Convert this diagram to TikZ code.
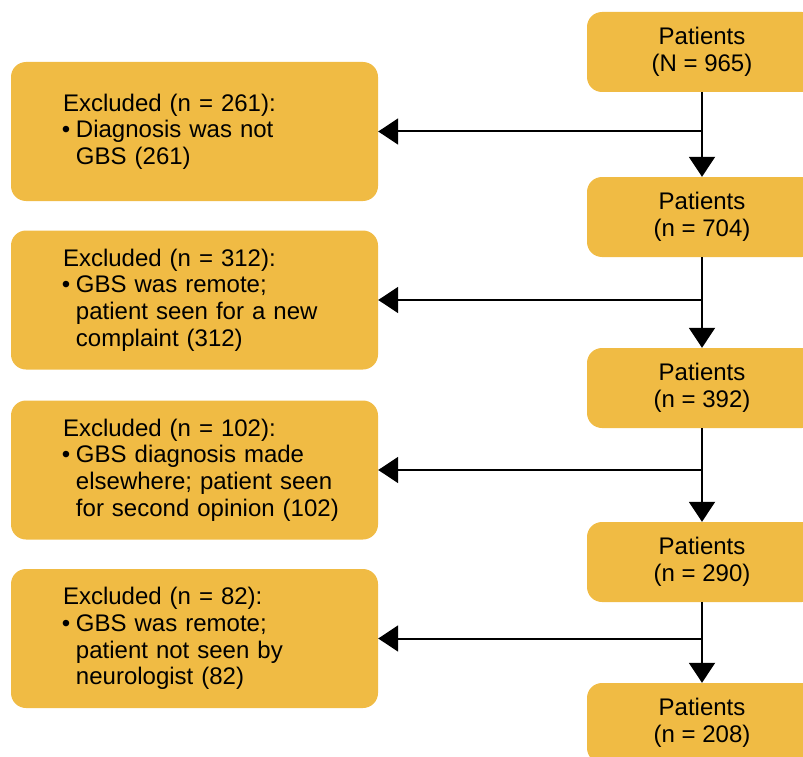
\documentclass[tikz,border=0pt]{standalone}
\usepackage{fontspec}
\setmainfont{Liberation Sans}
\usetikzlibrary{arrows.meta}
\definecolor{boxgold}{RGB}{240,187,68}
\newcommand{\exbullet}{\makebox[14pt][l]{\textbullet}}
\newcommand{\exindent}{\hspace*{14pt}}

\begin{document}
\begin{tikzpicture}[
    x=1pt, y=-1pt,
    font=\fontsize{24}{26.7}\selectfont,
    patbox/.style={rectangle, rounded corners=15pt, fill=boxgold, minimum width=230pt, minimum height=80pt, align=center, inner sep=0pt},
    exbox/.style={rectangle, rounded corners=15pt, fill=boxgold, minimum width=367pt, minimum height=139pt, text width=367pt, inner xsep=0pt, align=left, execute at begin node={\leftskip=51pt}},
    arr/.style={-{Triangle[length=20pt, width=26pt]}, line width=2pt}
]
\useasboundingbox (0,0) rectangle (803,757);

\node[patbox] (p1) at (702,52) {Patients\\(N = 965)};
\node[patbox] (p2) at (702,217) {Patients\\(n = 704)};
\node[patbox] (p3) at (702,388) {Patients\\(n = 392)};
\node[patbox] (p4) at (702,562) {Patients\\(n = 290)};
\node[patbox] (p5) at (702,723) {Patients\\(n = 208)};

\node[exbox] (e1) at (194.5,131.5) {\hspace*{1pt}Excluded (n = 261):\\
    \exbullet Diagnosis was not\\ \exindent GBS (261)};
\node[exbox] (e2) at (194.5,300) {\hspace*{1pt}Excluded (n = 312):\\
    \exbullet GBS was remote;\\ \exindent patient seen for a new\\ \exindent complaint (312)};
\node[exbox] (e3) at (194.5,470) {\hspace*{1pt}Excluded (n = 102):\\
    \exbullet GBS diagnosis made\\ \exindent elsewhere; patient seen\\ \exindent for second opinion (102)};
\node[exbox] (e4) at (194.5,638.5) {\hspace*{1pt}Excluded (n = 82):\\
    \exbullet GBS was remote;\\ \exindent patient not seen by\\ \exindent neurologist (82)};

\draw[arr] (p1) -- (p2);
\draw[arr] (p2) -- (p3);
\draw[arr] (p3) -- (p4);
\draw[arr] (p4) -- (p5);
\draw[arr] (p1.south |- e1.east) -- (e1.east);
\draw[arr] (p2.south |- e2.east) -- (e2.east);
\draw[arr] (p3.south |- e3.east) -- (e3.east);
\draw[arr] (p4.south |- e4.east) -- (e4.east);
\end{tikzpicture}
\end{document}
